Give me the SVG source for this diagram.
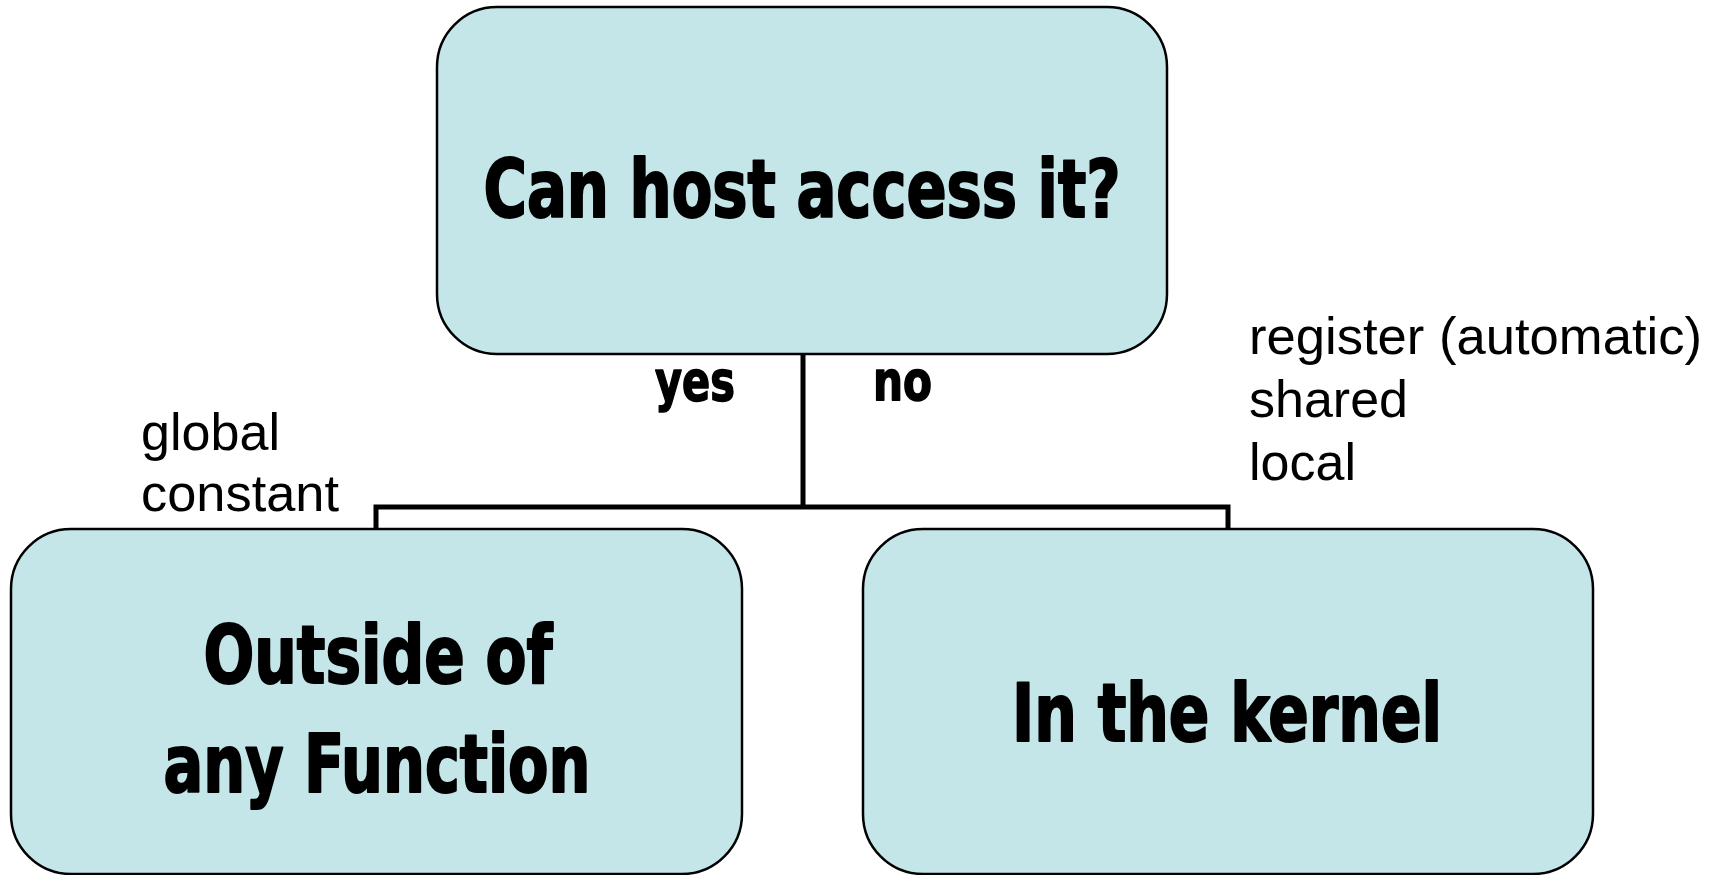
<svg xmlns="http://www.w3.org/2000/svg" width="1718" height="875" viewBox="0 0 1718 875">
<style>
.box{fill:#C4E6E9;stroke:#000;stroke-width:2.5}
.conn{fill:none;stroke:#000;stroke-width:5}
.big{font-family:"Liberation Sans Narrow","DejaVu Sans Condensed","DejaVu Sans",sans-serif;font-weight:bold;font-size:80px;fill:#000;stroke:#000;stroke-width:2;stroke-linejoin:round}
.lbl{font-family:"Liberation Sans Narrow","DejaVu Sans Condensed","DejaVu Sans",sans-serif;font-weight:bold;font-size:56px;fill:#000;stroke:#000;stroke-width:1.5;stroke-linejoin:round}
.note{font-family:"Liberation Sans",Arial,sans-serif;font-size:52px;fill:#000}
</style>
<rect width="1718" height="875" fill="#fff"/>
<g id="connectors">
<path class="conn" d="M803,354 V507"/>
<path class="conn" d="M376,529 V507 H1228 V529"/>
</g>
<g id="node-top">
<rect class="box" x="437" y="7" width="730" height="347" rx="60" ry="60"/>
<text class="big" x="802" y="217" text-anchor="middle" textLength="637" lengthAdjust="spacingAndGlyphs">Can host access it?</text>
</g>
<g id="node-outside">
<rect class="box" x="11" y="529" width="731" height="345" rx="60" ry="60"/>
<text class="big" x="378" y="683" text-anchor="middle" textLength="349" lengthAdjust="spacingAndGlyphs">Outside of</text>
<text class="big" x="377" y="792" text-anchor="middle" textLength="427" lengthAdjust="spacingAndGlyphs">any Function</text>
</g>
<g id="node-kernel">
<rect class="box" x="863" y="529" width="730" height="345" rx="60" ry="60"/>
<text class="big" x="1227" y="741" text-anchor="middle" textLength="430" lengthAdjust="spacingAndGlyphs">In the kernel</text>
</g>
<g id="labels">
<text class="lbl" x="655" y="400" textLength="80" lengthAdjust="spacingAndGlyphs">yes</text>
<text class="lbl" x="873" y="400" textLength="59" lengthAdjust="spacingAndGlyphs">no</text>
<text class="note" x="141" y="450" textLength="139" lengthAdjust="spacingAndGlyphs">global</text>
<text class="note" x="141" y="511" textLength="198" lengthAdjust="spacingAndGlyphs">constant</text>
<text class="note" x="1249" y="354" textLength="453" lengthAdjust="spacingAndGlyphs">register (automatic)</text>
<text class="note" x="1249" y="417">shared</text>
<text class="note" x="1249" y="480">local</text>
</g>
</svg>
